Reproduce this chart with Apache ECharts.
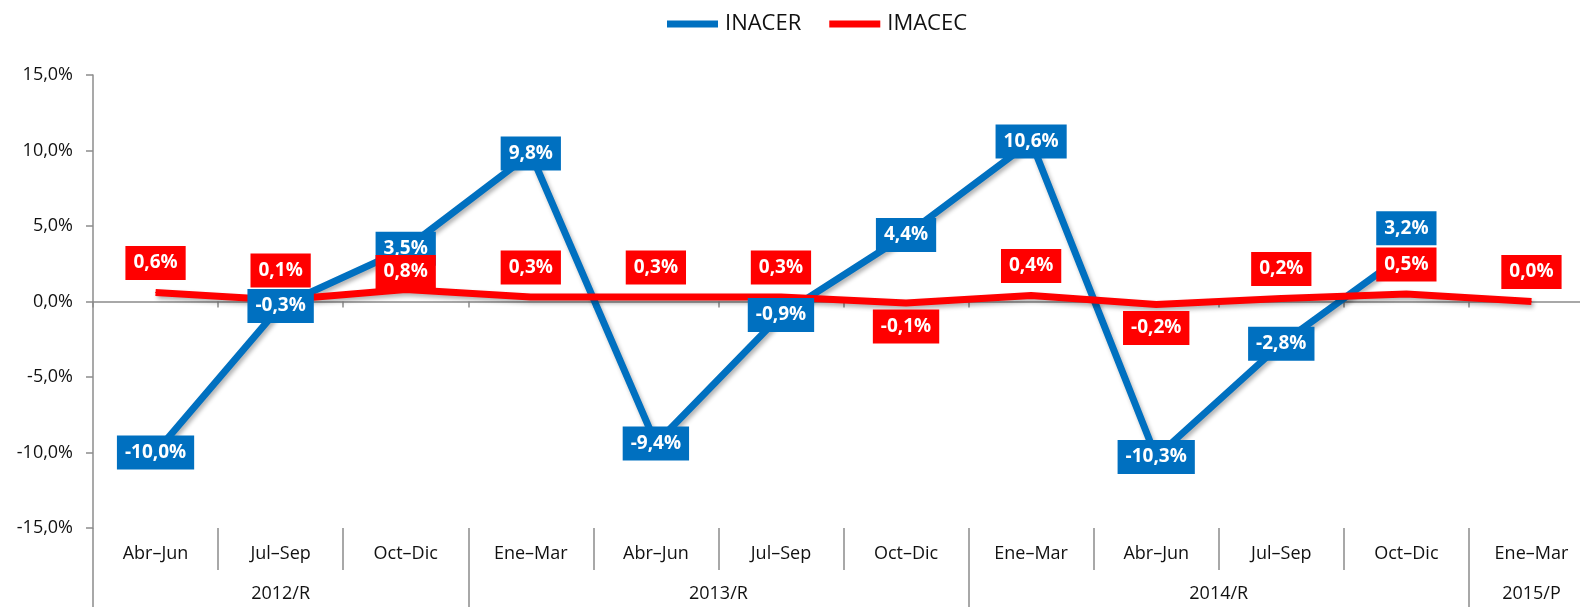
<!DOCTYPE html>
<html>
<head>
<meta charset="utf-8">
<script src="https://cdn.jsdelivr.net/npm/echarts@6/dist/echarts.min.js"></script>
<style>html,body{margin:0;padding:0;background:#fff;overflow:hidden;width:1580px;height:607px;}#c{width:1594px;height:607px;}</style>
</head>
<body>
<div id="c"></div>
<script>
const quarters = ['Abr–Jun','Jul–Sep','Oct–Dic','Ene–Mar','Abr–Jun','Jul–Sep','Oct–Dic','Ene–Mar','Abr–Jun','Jul–Sep','Oct–Dic','Ene–Mar'];
const years = ['2012/R','2013/R','2014/R','2015/P'];
const yearSizes = [3,4,4,1];
const inacer = [-10.0,-0.3,3.5,9.8,-9.4,-0.9,4.4,10.6,-10.3,-2.8,3.2,null];
const imacec = [0.6,0.1,0.8,0.3,0.3,0.3,-0.1,0.4,-0.2,0.2,0.5,0.0];

const FONT = 'Open Sans';
const fmt = v => v.toFixed(1).replace('.', ',') + '%';

// year group boundaries / centers
const bounds = [0]; yearSizes.forEach(s => bounds.push(bounds[bounds.length-1] + s));
const centers = yearSizes.map((s,i) => bounds[i] + s/2);

const labelBase = {
  show: true, color: '#fff', fontFamily: FONT, fontWeight: 'bold', fontSize: 19,
  lineHeight: 20, padding: [7, 8], formatter: p => fmt(p.value)
};
// per-point label adjustments (styling only)
const inacerOffsets = {10: [0, -25]};
const imacecDist = {2: 0};

const inacerData = inacer.map((v,i) => ({
  value: v,
  label: {position: 'inside', offset: inacerOffsets[i] || [0,0]}
}));
const imacecData = imacec.map((v,i) => ({
  value: v,
  label: v >= 0 ? {position: 'top', distance: (i in imacecDist) ? imacecDist[i] : 12}
                : {position: 'bottom', distance: 6}
}));

const chart = echarts.init(document.getElementById('c'), null, {renderer: 'canvas'});
const gray = '#8c8c8c';
chart.setOption({
  animation: false,
  legend: {
    top: 8, left: 662, itemWidth: 51, itemHeight: 7, itemGap: 28,
    icon: 'rect',
    textStyle: {fontFamily: FONT, fontSize: 22, color: '#111', padding: [0,0,0,2]},
    data: ['INACER','IMACEC']
  },
  grid: {left: 93, top: 75, right: 0, bottom: 79, containLabel: false},
  xAxis: [
    {
      type: 'category', data: quarters, boundaryGap: true,
      axisLine: {onZero: true, lineStyle: {color: gray, width: 1.5}},
      axisTick: {show: true, length: 6, lineStyle: {color: gray, width: 1.5}},
      axisLabel: {show: false}
    },
    {
      type: 'category', data: quarters, boundaryGap: true, position: 'bottom',
      axisLine: {show: false, onZero: false},
      axisTick: {show: true, length: 42, lineStyle: {color: gray, width: 1.5}},
      axisLabel: {show: true, margin: 17, fontFamily: FONT, fontSize: 18, color: '#111'}
    },
    {
      type: 'value', min: 0, max: bounds[bounds.length-1], position: 'bottom',
      axisLine: {show: false, onZero: false},
      splitLine: {show: false},
      axisTick: {show: true, length: 80, customValues: bounds, lineStyle: {color: gray, width: 1.5}},
      axisLabel: {
        show: true, margin: 57, fontFamily: FONT, fontSize: 18, color: '#111',
        customValues: centers,
        formatter: v => { const i = centers.findIndex(c => Math.abs(c - v) < 1e-6); return i >= 0 ? years[i] : ''; }
      }
    }
  ],
  yAxis: {
    type: 'value', min: -15, max: 15, interval: 5,
    axisLine: {show: true, lineStyle: {color: gray, width: 1.5}},
    axisTick: {show: true, length: 7, lineStyle: {color: gray, width: 1.5}},
    splitLine: {show: false},
    axisLabel: {margin: 20, fontFamily: FONT, fontSize: 18, color: '#111', formatter: fmt}
  },
  series: [
    {
      name: 'INACER', type: 'line', xAxisIndex: 0, data: inacerData,
      symbol: 'circle', symbolSize: 1, showSymbol: true,
      itemStyle: {color: '#0070C0'},
      lineStyle: {color: '#0070C0', width: 7, shadowColor: 'rgba(0,0,0,0.3)', shadowBlur: 4, shadowOffsetX: 2, shadowOffsetY: 3},
      label: Object.assign({}, labelBase, {backgroundColor: '#0070C0'}),
      emphasis: {disabled: true}
    },
    {
      name: 'IMACEC', type: 'line', xAxisIndex: 0, data: imacecData,
      symbol: 'circle', symbolSize: 1, showSymbol: true,
      itemStyle: {color: '#FF0000'},
      lineStyle: {color: '#FF0000', width: 7, shadowColor: 'rgba(0,0,0,0.3)', shadowBlur: 4, shadowOffsetX: 2, shadowOffsetY: 3},
      label: Object.assign({}, labelBase, {backgroundColor: '#FF0000'}),
      emphasis: {disabled: true}
    }
  ]
});
</script>
</body>
</html>
